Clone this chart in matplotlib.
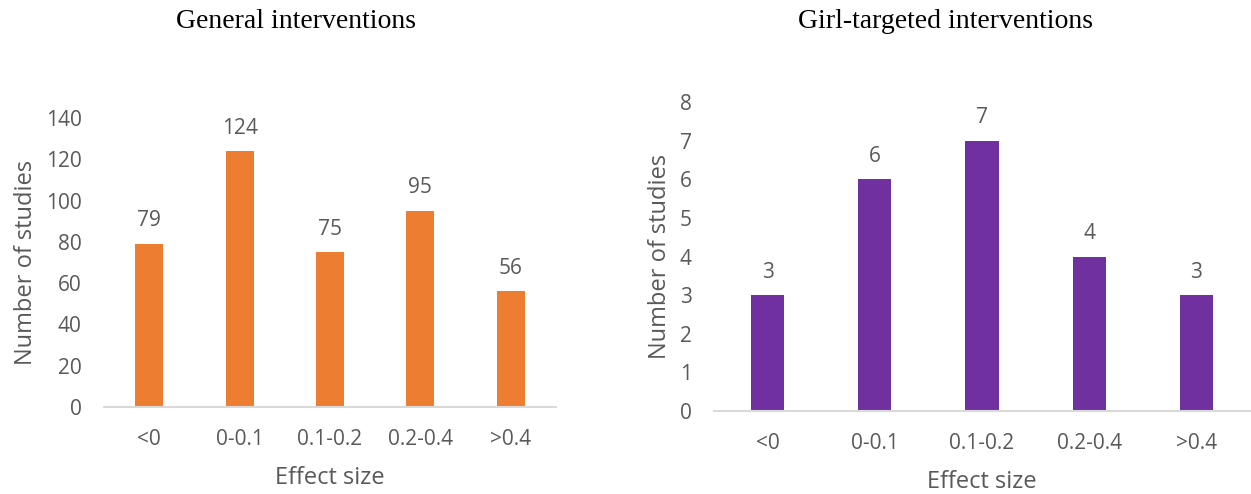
import matplotlib.pyplot as plt

categories = ['<0', '0-0.1', '0.1-0.2', '0.2-0.4', '>0.4']
general_counts = [79, 124, 75, 95, 56]
girl_counts = [3, 6, 7, 4, 3]

sans = ['Open Sans', 'DejaVu Sans']
serif = ['Liberation Serif', 'DejaVu Serif']
grey = '#595959'

fig = plt.figure(figsize=(12.51, 4.94), dpi=100)


def draw(ax, counts, color, ymax, step, title, title_x):
    x = range(len(categories))
    bars = ax.bar(x, counts, width=0.31, color=color, zorder=2)
    for b, v in zip(bars, counts):
        ax.annotate(str(v), (b.get_x() + b.get_width() / 2, v),
                    xytext=(0, 9), textcoords='offset points',
                    ha='center', va='bottom', fontsize=15,
                    color=grey, family=sans)
    ax.set_xlim(-0.5, len(categories) - 0.5)
    ax.set_ylim(0, ymax)
    ax.set_yticks(range(0, ymax + 1, step))
    ax.set_xticks(list(x))
    ax.set_xticklabels(categories)
    for s in ['top', 'right', 'left']:
        ax.spines[s].set_visible(False)
    ax.spines['bottom'].set_color('#d9d9d9')
    ax.spines['bottom'].set_linewidth(1.5)
    ax.tick_params(length=0, labelsize=15, labelcolor=grey)
    ax.tick_params(axis='x', pad=16)
    ax.tick_params(axis='y', pad=16)
    for lab in ax.get_xticklabels() + ax.get_yticklabels():
        lab.set_family(sans)
    ax.set_xlabel('Effect size', fontsize=17, color=grey, family=sans, labelpad=11)
    ax.set_ylabel('Number of studies', fontsize=17, color=grey, family=sans)
    fig.text(title_x, 1 - 22 / 494, title, ha='center', va='center',
             fontsize=20, family=serif, color='black')


ax1 = fig.add_axes([104 / 1251, 87 / 494, 452 / 1251, 289 / 494])
draw(ax1, general_counts, '#ed7d31', 140, 20, 'General interventions', 296 / 1251)
ax1.yaxis.set_label_coords(-0.146, 0.5)

ax2 = fig.add_axes([714 / 1251, 83 / 494, 536 / 1251, 309 / 494])
draw(ax2, girl_counts, '#7030a0', 8, 1, 'Girl-targeted interventions', 946 / 1251)
ax2.yaxis.set_label_coords(-0.079, 0.5)

fig.savefig('out.png', dpi=100)
